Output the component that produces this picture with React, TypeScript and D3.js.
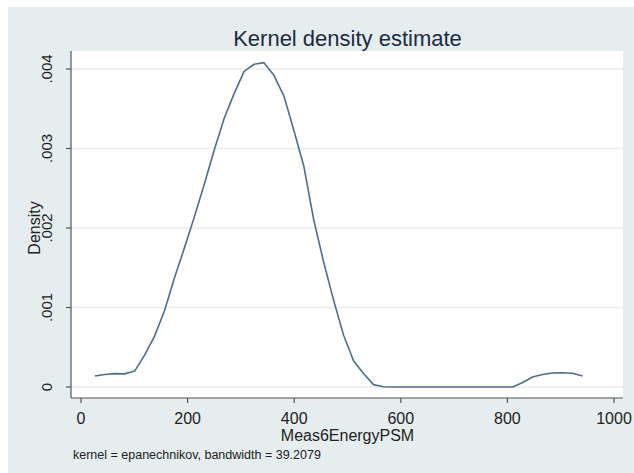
import React from "react";
import * as d3 from "d3";

// Evaluation grid of the kernel density estimate (50 points)
const gridX: number[] = [
  26.0, 44.7, 63.3, 82.0, 100.7, 119.3, 138.0, 156.7, 175.3, 194.0,
  212.7, 231.3, 250.0, 268.7, 287.3, 306.0, 324.7, 343.3, 362.0, 380.7,
  399.3, 418.0, 436.7, 455.3, 474.0, 492.7, 511.3, 530.0, 548.7, 567.3,
  586.0, 604.7, 623.3, 642.0, 660.7, 679.3, 698.0, 716.7, 735.3, 754.0,
  772.7, 791.3, 810.0, 828.7, 847.3, 866.0, 884.7, 903.3, 922.0, 941.0,
];

// Estimated density at each grid point
const density: number[] = [
  0.000138, 0.000158, 0.000168, 0.000165, 0.0002, 0.0004, 0.00064, 0.00096, 0.00137, 0.00175,
  0.00214, 0.00255, 0.00298, 0.00338, 0.00369, 0.00397, 0.00406, 0.00408, 0.00392, 0.00366,
  0.00323, 0.00278, 0.0021, 0.00157, 0.00109, 0.00065, 0.00033, 0.00017, 0.00003, 0.000003,
  0, 0, 0, 0, 0, 0, 0, 0, 0, 0,
  0, 0, 0, 0.000057, 0.000126, 0.000157, 0.000176, 0.00018, 0.000172, 0.000138,
];

const xTicks: number[] = [0, 200, 400, 600, 800, 1000];
const yTicks: number[] = [0, 0.001, 0.002, 0.003, 0.004];
const yTickLabels: string[] = ["0", ".001", ".002", ".003", ".004"];

const title = "Kernel density estimate";
const xTitle = "Meas6EnergyPSM";
const yTitle = "Density";
const note = "kernel = epanechnikov, bandwidth = 39.2079";

const W = 634;
const H = 473;
const FONT = "'Liberation Sans', Arial, Helvetica, sans-serif";

export default function App() {
  const plot = { left: 71, right: 623, top: 51, bottom: 398 };
  const x = d3.scaleLinear().domain([0, 1000]).range([81, 614]);
  const y = d3.scaleLinear().domain([0, 0.004]).range([387, 69]);

  const pts: [number, number][] = gridX.map((v, i) => [v, density[i]]);
  const line = d3
    .line<[number, number]>()
    .x((d) => x(d[0]))
    .y((d) => y(d[1]))
    .curve(d3.curveLinear);

  return (
    <svg
      width={W}
      height={H}
      style={{ position: "absolute", left: 0, top: 0, background: "#ffffff" }}
    >
      {/* graph region */}
      <rect x={8} y={7} width={W - 8} height={H - 7} fill="#e5edef" />
      {/* plot region */}
      <rect
        x={plot.left}
        y={plot.top}
        width={plot.right - plot.left}
        height={plot.bottom - plot.top}
        fill="#ffffff"
      />
      {/* horizontal grid lines */}
      {yTicks.map((t) => (
        <line
          key={"g" + t}
          x1={plot.left}
          x2={plot.right}
          y1={y(t)}
          y2={y(t)}
          stroke="#edf1f2"
          strokeWidth={2}
        />
      ))}
      {/* density curve */}
      <path
        d={line(pts) ?? ""}
        fill="none"
        stroke="#4d6f8e"
        strokeWidth={1.6}
        strokeLinejoin="round"
      />
      {/* axes */}
      <line x1={plot.left} x2={plot.left} y1={plot.top} y2={plot.bottom} stroke="#555" strokeWidth={1.2} />
      <line x1={plot.left} x2={plot.right} y1={plot.bottom} y2={plot.bottom} stroke="#555" strokeWidth={1.2} />
      {yTicks.map((t, i) => (
        <g key={"y" + t}>
          <line x1={plot.left - 5} x2={plot.left} y1={y(t)} y2={y(t)} stroke="#555" strokeWidth={1.2} />
          <text
            transform={`translate(52,${y(t)}) rotate(-90)`}
            textAnchor="middle"
            fontFamily={FONT}
            fontSize={15}
            fill="#222"
          >
            {yTickLabels[i]}
          </text>
        </g>
      ))}
      {xTicks.map((t) => (
        <g key={"x" + t}>
          <line x1={x(t)} x2={x(t)} y1={plot.bottom} y2={plot.bottom + 5} stroke="#555" strokeWidth={1.2} />
          <text
            x={x(t)}
            y={424}
            textAnchor="middle"
            fontFamily={FONT}
            fontSize={16}
            fill="#222"
          >
            {t}
          </text>
        </g>
      ))}
      {/* titles */}
      <text
        x={(x(0) + x(1000)) / 2}
        y={441}
        textAnchor="middle"
        fontFamily={FONT}
        fontSize={16}
        fill="#222"
      >
        {xTitle}
      </text>
      <text
        transform={`translate(40,${(y(0) + y(0.004)) / 2}) rotate(-90)`}
        textAnchor="middle"
        fontFamily={FONT}
        fontSize={16}
        fill="#222"
      >
        {yTitle}
      </text>
      <text
        x={(x(0) + x(1000)) / 2}
        y={46}
        textAnchor="middle"
        fontFamily={FONT}
        fontSize={22}
        fill="#1c2b44"
      >
        {title}
      </text>
      <text x={73} y={459} fontFamily={FONT} fontSize={12.5} fill="#222">
        {note}
      </text>
    </svg>
  );
}
